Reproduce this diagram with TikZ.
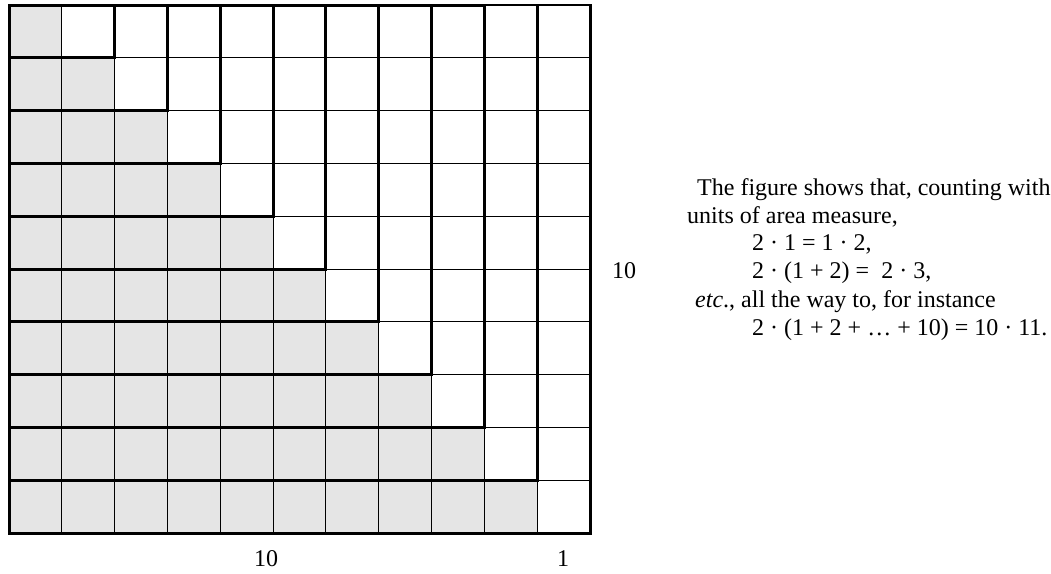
\documentclass[tikz,border=0pt]{standalone}
\usepackage{fontspec}
\setmainfont{Liberation Serif}
\definecolor{cellgrey}{RGB}{229,229,229}
\begin{document}
\begin{tikzpicture}[x=1pt,y=-1pt,
  gridline/.style={line width=1pt,black},
  heavyline/.style={line width=3pt,black,line join=miter},
  lbl/.style={font=\fontsize{24}{28}\selectfont,inner sep=0pt},
  txt/.style={lbl,anchor=base west}]
\useasboundingbox (0,0) rectangle (1051,573);
% grey staircase
\foreach \r in {1,...,10}
  \fill[cellgrey] (9,{5+(\r-1)*52.8}) rectangle ({9+\r*52.8},{5+\r*52.8});
% thin grid lines
\foreach \i in {1,...,10}
  \draw[gridline] ({9+\i*52.8},5) -- ({9+\i*52.8},533);
\foreach \j in {1,...,9}
  \draw[gridline] (9,{5+\j*52.8}) -- (590,{5+\j*52.8});
% nested L-shapes
\foreach \k in {1,...,9}
  \draw[heavyline] (9,{5+\k*52.8}) -- ({9+(\k+1)*52.8},{5+\k*52.8}) -- ({9+(\k+1)*52.8},5);
% outer border
\draw[line width=2pt] (484.2,5) -- (590,5);
\draw[heavyline] (484.2,5) -- (9,5) -- (9,533) -- (590,533) -- (590,4);
% labels
\node[lbl] (right10) at (624,271) {10};
\node[lbl] (bottom10) at (266,559) {10};
\node[lbl] (bottom1) at (563,559) {1};
% text
\node[txt] (t1) at (697,195) {The figure shows that, counting with};
\node[txt] (t2) at (687,223) {units of area measure,};
\node[txt] (t3) at (752,250) {2 · 1 = 1 · 2,};
\node[txt] (t4) at (752,278) {2 · (1 + 2) = \hspace{0.25em}2 · 3,};
\node[txt] (t5) at (695,307) {\textit{etc}., all the way to, for instance};
\node[txt] (t6) at (752,335) {2 · (1 + 2 + … + 10) = 10 · 11.};
\end{tikzpicture}
\end{document}
